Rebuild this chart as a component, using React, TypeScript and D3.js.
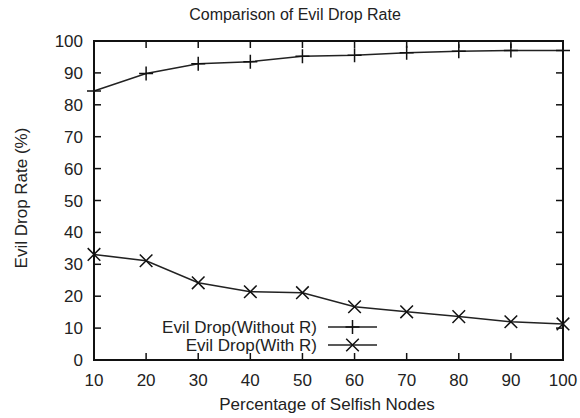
import React, { useEffect, useRef } from "react";
import * as d3 from "d3";

const nodes = [10, 20, 30, 40, 50, 60, 70, 80, 90, 100];
const withoutR = [84.3, 89.8, 92.9, 93.5, 95.2, 95.5, 96.3, 96.8, 97.0, 97.0];
const withR = [33.1, 31.1, 24.2, 21.4, 21.1, 16.7, 15.1, 13.6, 12.0, 11.3];
const yTicks = [0, 10, 20, 30, 40, 50, 60, 70, 80, 90, 100];
const seriesNames = ["Evil Drop(Without R)", "Evil Drop(With R)"];

const width = 580;
const height = 418;
const margin = { top: 41, right: 17, bottom: 58, left: 94 };
const font = "'Liberation Sans', Arial, sans-serif";
const fs = 17;

function App() {
  const ref = useRef<SVGSVGElement>(null);

  useEffect(() => {
    const svg = d3.select(ref.current);
    svg.selectAll("*").remove();

    const x = d3.scaleLinear().domain([10, 100]).range([margin.left, width - margin.right]);
    const y = d3.scaleLinear().domain([0, 100]).range([height - margin.bottom, margin.top]);
    const [x0, x1] = x.range();
    const [y0, y1] = y.range();
    const tick = 7;

    // title
    svg.append("text")
      .attr("x", 295).attr("y", 20)
      .attr("text-anchor", "middle")
      .attr("font-family", font).attr("font-size", 16).attr("fill", "#222")
      .text("Comparison of Evil Drop Rate");

    const g = svg.append("g");

    // ticks, mirrored on all sides and pointing inward
    nodes.forEach(v => {
      g.append("line").attr("x1", x(v)).attr("x2", x(v)).attr("y1", y0).attr("y2", y0 - tick)
        .attr("stroke", "#111").attr("stroke-width", 1.5);
      g.append("line").attr("x1", x(v)).attr("x2", x(v)).attr("y1", y1).attr("y2", y1 + tick)
        .attr("stroke", "#111").attr("stroke-width", 1.5);
      g.append("text").attr("x", x(v)).attr("y", y0 + 26)
        .attr("text-anchor", "middle")
        .attr("font-family", font).attr("font-size", fs).attr("fill", "#222")
        .text(v);
    });
    yTicks.forEach(v => {
      g.append("line").attr("x1", x0).attr("x2", x0 + tick).attr("y1", y(v)).attr("y2", y(v))
        .attr("stroke", "#111").attr("stroke-width", 1.5);
      g.append("line").attr("x1", x1).attr("x2", x1 - tick).attr("y1", y(v)).attr("y2", y(v))
        .attr("stroke", "#111").attr("stroke-width", 1.5);
      g.append("text").attr("x", x0 - 11).attr("y", y(v) + 6)
        .attr("text-anchor", "end")
        .attr("font-family", font).attr("font-size", fs).attr("fill", "#222")
        .text(v);
    });

    // frame
    g.append("rect")
      .attr("x", x0).attr("y", y1).attr("width", x1 - x0).attr("height", y0 - y1)
      .attr("fill", "none").attr("stroke", "#111").attr("stroke-width", 2);

    // axis labels
    svg.append("text")
      .attr("x", 327).attr("y", 410)
      .attr("text-anchor", "middle")
      .attr("font-family", font).attr("font-size", fs).attr("fill", "#222")
      .text("Percentage of Selfish Nodes");
    svg.append("text")
      .attr("transform", `translate(27,198) rotate(-90)`)
      .attr("text-anchor", "middle")
      .attr("font-family", font).attr("font-size", fs).attr("fill", "#222")
      .text("Evil Drop Rate (%)");

    const line = d3.line<number>().x((_, i) => x(nodes[i])).y(d => y(d));
    const m = 7;

    const plus = (sel: any, cx: number, cy: number) => {
      sel.append("path")
        .attr("d", `M${cx - m},${cy}H${cx + m}M${cx},${cy - m}V${cy + m}`)
        .attr("stroke", "#111").attr("stroke-width", 1.5).attr("fill", "none");
    };
    const cross = (sel: any, cx: number, cy: number) => {
      const k = m * 0.9;
      sel.append("path")
        .attr("d", `M${cx - k},${cy - k}L${cx + k},${cy + k}M${cx - k},${cy + k}L${cx + k},${cy - k}`)
        .attr("stroke", "#111").attr("stroke-width", 1.5).attr("fill", "none");
    };

    [withoutR, withR].forEach((s, si) => {
      g.append("path").datum(s).attr("d", line)
        .attr("fill", "none").attr("stroke", "#222").attr("stroke-width", 1.5);
      s.forEach((v, i) => (si === 0 ? plus : cross)(g, x(nodes[i]), y(v)));
    });

    // legend
    const legendY = [327, 345];
    seriesNames.forEach((name, i) => {
      g.append("text").attr("x", 317).attr("y", legendY[i] + 6)
        .attr("text-anchor", "end")
        .attr("font-family", font).attr("font-size", fs).attr("fill", "#222")
        .text(name);
      g.append("line").attr("x1", 328).attr("x2", 377).attr("y1", legendY[i]).attr("y2", legendY[i])
        .attr("stroke", "#222").attr("stroke-width", 1.5);
      (i === 0 ? plus : cross)(g, 352.5, legendY[i]);
    });
  }, []);

  return <svg ref={ref} width={width} height={height} style={{ display: "block", position: "absolute", left: 0, top: 0 }} />;
}

export default App;
